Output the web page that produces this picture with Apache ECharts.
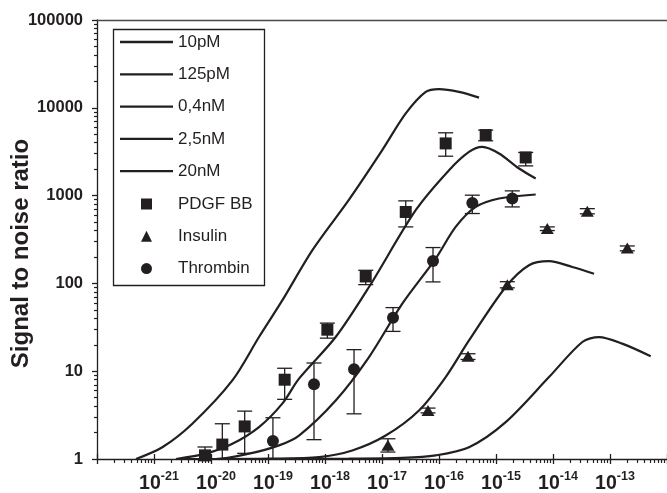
<!DOCTYPE html>
<html><head><meta charset="utf-8">
<script src="https://cdn.jsdelivr.net/npm/echarts@6/dist/echarts.min.js"></script>
<style>html,body{margin:0;padding:0;background:#fff}#c{width:667px;height:493px}</style>
</head><body><div id="c"></div>
<script>
// ---------------- data (real values; axes are log10) ----------------
const curveNames = ['10pM', '125pM', '0,4nM', '2,5nM', '20nM'];
const curve10pM = [[4.83e-22,1.0],[1.40e-21,1.36],[4.70e-21,2.52],[2.37e-20,7.85],[6.95e-20,24.5],[1.78e-19,64],[5.98e-19,238],[2.64e-18,900],[1.01e-17,3296],[2.61e-17,8630],[5.85e-17,15200],[1.0e-16,16330],[2.24e-16,15200],[5.04e-16,13060]];
const curve125pM = [[2.43e-21,1.0],[8.07e-21,1.15],[2.37e-20,1.49],[6.95e-20,2.31],[1.78e-19,4.27],[3.50e-19,8.22],[1.54e-18,24.5],[5.92e-18,91],[3.90e-17,682],[1.50e-16,1950],[3.36e-16,3150],[5.75e-16,3590],[1.13e-15,3020],[2.54e-15,2037],[4.97e-15,1567]];
const curve04nM = [[2.5e-21,1.0],[1.21e-20,1.0],[4.65e-20,1.15],[1.56e-19,1.43],[3.50e-19,1.85],[1.54e-18,4.64],[5.92e-18,14.5],[2.27e-17,58.9],[8.75e-17,192],[1.96e-16,440],[4.41e-16,743],[1.13e-15,927],[4.97e-15,1030]];
const curve25nM = [[1.0e-20,1.0],[1.05e-19,1.01],[7.85e-19,1.05],[3.01e-18,1.25],[1.16e-17,1.85],[4.46e-17,3.57],[1.31e-16,8.57],[3.36e-16,22.4],[1.48e-15,91],[3.79e-15,161],[8.51e-15,179],[2.18e-14,154],[5.24e-14,129]];
const curve20nM = [[1.0e-19,1.0],[2.63e-18,1.01],[2.27e-17,1.03],[8.75e-17,1.10],[3.36e-16,1.36],[1.48e-15,2.63],[8.51e-15,8.57],[3.27e-14,21.5],[6.41e-14,24.5],[1.64e-13,20.6],[5.18e-13,14.8]];

const pdgfX  = [7.85e-21, 1.58e-20, 3.90e-20, 1.96e-19, 1.10e-18, 5.18e-18, 2.61e-17, 1.31e-16, 6.59e-16, 3.32e-15];
const pdgfY  = [1.10, 1.46, 2.35, 8.0, 29.7, 120, 651, 3930, 4890, 2720];
const pdgfLo = [0.9, 0.9, 1.16, 4.78, 23.8, 96.8, 440, 2810, 4210, 2180];
const pdgfHi = [1.37, 2.52, 3.51, 10.8, 35.3, 141, 871, 5190, 5570, 3100];

const insX  = [1.27e-17, 6.41e-17, 3.23e-16, 1.58e-15, 7.94e-15, 4.0e-14, 2.01e-13];
const insY  = [1.43, 3.57, 14.8, 96.8, 422, 664, 253];
const insLo = [1.20, 3.35, 13.6, 89, 400, 620, 235];
const insHi = [1.70, 3.80, 15.8, 104.6, 440, 710, 267];

const thrX  = [1.22e-19, 6.41e-19, 3.23e-18, 1.56e-17, 7.85e-17, 3.84e-16, 1.93e-15];
const thrY  = [1.60, 7.08, 10.5, 40.7, 180, 826, 927];
const thrLo = [0.9, 1.66, 3.27, 28.4, 104, 625, 743];
const thrHi = [2.95, 12.4, 17.6, 53, 256, 1011, 1132];

const markerNames = ['PDGF BB', 'Insulin', 'Thrombin'];
const xExpMin = -22, xExpMax = -12;   // x axis: 10^-22 .. 10^-12
const yExpMin = 0, yExpMax = 5;       // y axis: 1 .. 100000
// --------------------------------------------------------------------

const L = Math.log10;
const INK = '#231f20';
const FONT = '"Liberation Sans", Arial, Helvetica, sans-serif';

function minorTicks(a, b) {
  const out = [];
  for (let n = a; n < b; n++) for (let k = 2; k <= 9; k++) out.push(n + L(k));
  return out;
}

const curves = [curve10pM, curve125pM, curve04nM, curve25nM, curve20nM];
const lineSeries = curves.map((c, i) => ({
  name: curveNames[i], type: 'line', xAxisIndex: 0, yAxisIndex: 0,
  data: c.map(p => [L(p[0]), L(p[1])]),
  smooth: 0.3, symbol: 'none', showSymbol: false, clip: true,
  lineStyle: { color: INK, width: 2.2 }, itemStyle: { color: INK }, z: 3
}));

function errSeries(xs, lo, hi) {
  return {
    type: 'custom', xAxisIndex: 0, yAxisIndex: 0, silent: true, z: 2,
    data: xs.map((x, i) => [L(x), L(lo[i]), L(hi[i])]),
    renderItem: function (params, api) {
      const x = api.value(0);
      let lo = api.value(1); const hi = api.value(2);
      const clipped = lo < yExpMin;
      if (clipped) lo = yExpMin;
      const a = api.coord([x, lo]), b = api.coord([x, hi]);
      const hw = 7.5;
      const st = { stroke: INK, lineWidth: 1.3, fill: null };
      const ch = [
        { type: 'line', shape: { x1: a[0], y1: a[1], x2: b[0], y2: b[1] }, style: st },
        { type: 'line', shape: { x1: b[0] - hw, y1: b[1], x2: b[0] + hw, y2: b[1] }, style: st }
      ];
      if (!clipped) ch.push({ type: 'line', shape: { x1: a[0] - hw, y1: a[1], x2: a[0] + hw, y2: a[1] }, style: st });
      return { type: 'group', children: ch };
    }
  };
}

function scatter(name, xs, ys, symbol, size) {
  return {
    name: name, type: 'scatter', xAxisIndex: 0, yAxisIndex: 0,
    data: xs.map((x, i) => [L(x), L(ys[i])]),
    symbol: symbol, symbolSize: size, itemStyle: { color: INK, opacity: 1 }, z: 4
  };
}

const xBase = { type: 'value', min: xExpMin, max: xExpMax, interval: 1, gridIndex: 0, splitLine: { show: false } };
const yBase = { type: 'value', min: yExpMin, max: yExpMax, interval: 1, gridIndex: 0, splitLine: { show: false } };
const axLine = { show: true, onZero: false, lineStyle: { color: INK, width: 1.3 } };
const noLine = { show: false, onZero: false };
const legendText = { fontSize: 17, color: INK, fontFamily: FONT, lineHeight: 20 };

const option = {
  animation: false,
  backgroundColor: '#fff',
  grid: { left: 97, right: 0, top: 20, bottom: 34, containLabel: false, outerBoundsMode: 'none' },
  xAxis: [
    Object.assign({}, xBase, {
      position: 'bottom', axisLine: axLine,
      axisTick: { show: true, length: 5, lineStyle: { color: INK, width: 1.3 } },
      axisLabel: {
        margin: 11,
        formatter: v => (v <= xExpMin || v >= xExpMax) ? '' : '{b|10}{e|' + v + '}',
        rich: {
          b: { fontSize: 19.5, fontWeight: 'bold', color: INK, fontFamily: FONT, lineHeight: 21, padding: [6, 0, 0, 10] },
          e: { fontSize: 12.5, fontWeight: 'bold', color: INK, fontFamily: FONT, lineHeight: 14, verticalAlign: 'top' }
        }
      }
    }),
    Object.assign({}, xBase, {
      position: 'bottom', axisLine: noLine, axisLabel: { show: false },
      axisTick: { show: true, length: 4, customValues: minorTicks(xExpMin, xExpMax), lineStyle: { color: INK, width: 1.2 } }
    }),
    Object.assign({}, xBase, {
      position: 'bottom', axisLine: noLine, axisLabel: { show: false },
      axisTick: { show: true, inside: true, length: 5, lineStyle: { color: INK, width: 1.3 } }
    }),
    Object.assign({}, xBase, {
      position: 'top', axisLine: { show: true, onZero: false, lineStyle: { color: '#4a4a4a', width: 1.3 } },
      axisTick: { show: false }, axisLabel: { show: false }
    })
  ],
  yAxis: [
    Object.assign({}, yBase, {
      position: 'left', axisLine: axLine,
      axisTick: { show: true, length: 5, lineStyle: { color: INK, width: 1.3 } },
      axisLabel: {
        margin: 14, fontSize: 16.5, fontWeight: 'bold', color: INK, fontFamily: FONT,
        formatter: v => String(Math.round(Math.pow(10, v)))
      },
      name: 'Signal to noise ratio', nameLocation: 'middle', nameRotate: 90, nameGap: 64,
      nameMoveOverlap: false,
      nameTextStyle: { fontSize: 24, fontWeight: 'bold', color: INK, fontFamily: FONT, padding: [0, 28, 0, 0] }
    }),
    Object.assign({}, yBase, {
      position: 'left', axisLine: noLine, axisLabel: { show: false },
      axisTick: { show: true, length: 3, customValues: minorTicks(yExpMin, yExpMax), lineStyle: { color: INK, width: 1.2 } }
    })
  ],
  legend: [
    {
      data: curveNames.map(n => ({ name: n, icon: 'rect' })), orient: 'vertical', left: 120, top: 32, padding: 0,
      itemWidth: 53, itemHeight: 2.3, itemGap: 12.3, selectedMode: false,
      itemStyle: { color: INK }, textStyle: legendText
    },
    {
      data: [{ name: markerNames[0], icon: 'rect' }, { name: markerNames[1], icon: 'triangle' }, { name: markerNames[2], icon: 'circle' }],
      orient: 'vertical', left: 141, top: 194, padding: 0,
      itemWidth: 11, itemHeight: 11, itemGap: 12.3, selectedMode: false,
      itemStyle: { color: INK }, textStyle: Object.assign({}, legendText, { padding: [0, 0, 0, 21] })
    }
  ],
  graphic: [
    { type: 'rect', left: 111, top: 27, shape: { width: 151, height: 256 }, style: { fill: 'none', stroke: INK, lineWidth: 1.3 }, z: 10 }
  ],
  series: lineSeries.concat([
    errSeries(pdgfX, pdgfLo, pdgfHi),
    errSeries(insX, insLo, insHi),
    errSeries(thrX, thrLo, thrHi),
    scatter(markerNames[0], pdgfX, pdgfY, 'rect', 12),
    scatter(markerNames[1], insX, insY, 'triangle', [13, 11]),
    scatter(markerNames[2], thrX, thrY, 'circle', 12)
  ])
};

const chart = echarts.init(document.getElementById('c'), null, { renderer: 'canvas' });
chart.setOption(option);
</script>
</body></html>
